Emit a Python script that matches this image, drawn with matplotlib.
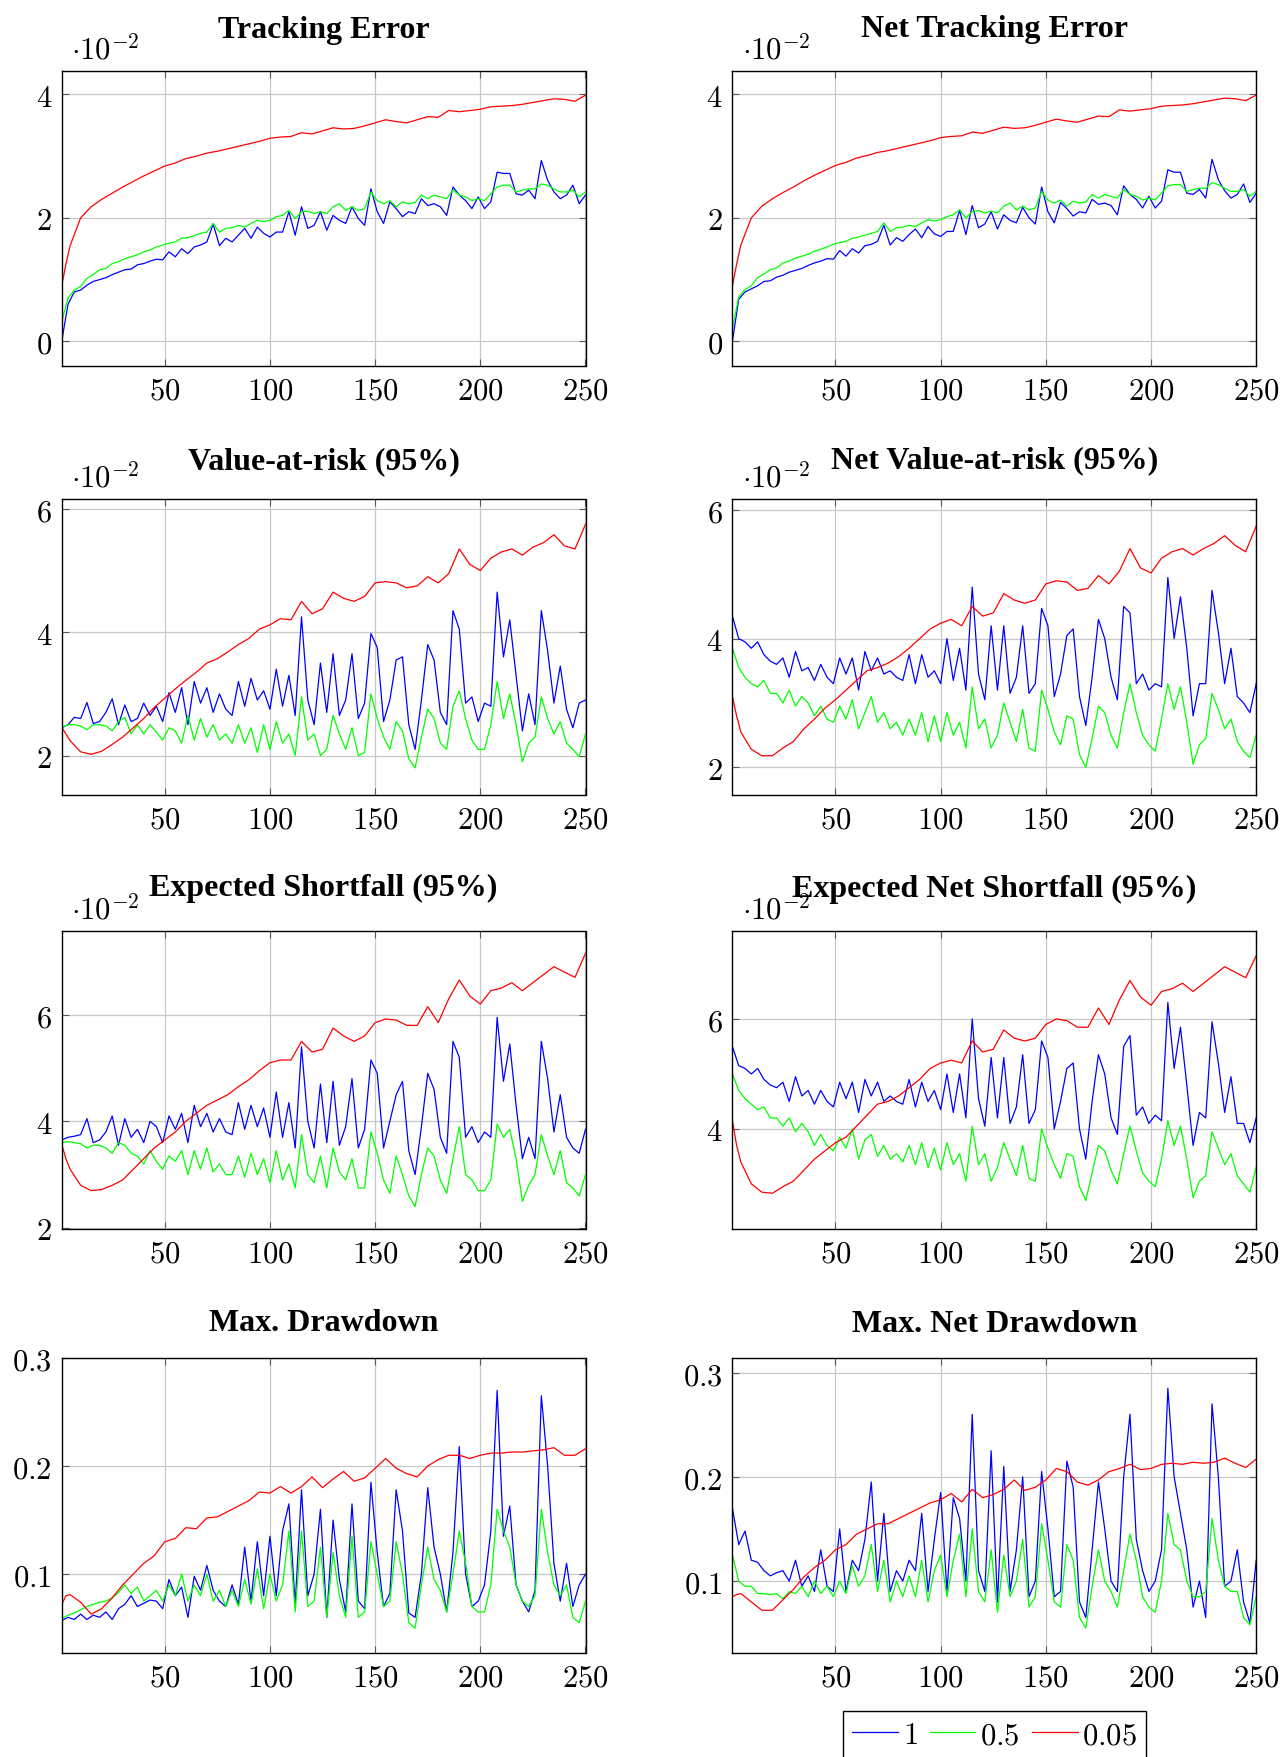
import numpy as np
import matplotlib.pyplot as plt
from matplotlib.ticker import FuncFormatter

plt.rcParams['mathtext.fontset'] = 'cm'

# x positions: noisy series read every 3rd day, smooth (0.05) series every 5th
x_n = np.arange(1, 251, 3)
x_r = np.array([1, 3] + list(range(5, 251, 5)))

legend_labels = ['$1$', '$0.5$', '$0.05$']

# Tracking Error (x 1e-2)
te_blue = [0.0, 0.6, 0.8, 0.83, 0.91, 0.97, 1.0, 1.03, 1.08, 1.12, 1.16, 1.17,
           1.24, 1.26, 1.3, 1.33, 1.32, 1.45, 1.37, 1.5, 1.42, 1.53, 1.56, 1.61,
           1.9, 1.55, 1.67, 1.61, 1.72, 1.83, 1.67, 1.85, 1.75, 1.69, 1.77, 1.77,
           2.1, 1.72, 2.18, 1.83, 1.88, 2.1, 1.8, 2.04, 1.96, 1.91, 2.18, 1.99,
           1.88, 2.47, 2.1, 1.91, 2.26, 2.15, 2.02, 2.1, 2.07, 2.31, 2.2, 2.23,
           2.18, 2.04, 2.5, 2.37, 2.28, 2.15, 2.34, 2.15, 2.26, 2.74, 2.72, 2.72,
           2.39, 2.37, 2.45, 2.31, 2.93, 2.61, 2.42, 2.31, 2.37, 2.53, 2.23, 2.37]
te_green = [0.32, 0.7, 0.83, 0.89, 1.02, 1.08, 1.16, 1.18, 1.26, 1.29, 1.34, 1.37,
            1.4, 1.45, 1.48, 1.53, 1.56, 1.59, 1.61, 1.67, 1.68, 1.71, 1.75, 1.77,
            1.91, 1.77, 1.83, 1.84, 1.88, 1.85, 1.91, 1.96, 1.94, 1.96, 2.02, 2.04,
            2.12, 1.99, 2.1, 2.11, 2.07, 2.1, 2.07, 2.18, 2.23, 2.12, 2.18, 2.12,
            2.15, 2.42, 2.28, 2.23, 2.28, 2.18, 2.26, 2.23, 2.25, 2.37, 2.31, 2.37,
            2.34, 2.31, 2.45, 2.37, 2.34, 2.28, 2.31, 2.28, 2.39, 2.5, 2.53, 2.53,
            2.42, 2.45, 2.47, 2.47, 2.55, 2.53, 2.47, 2.42, 2.42, 2.45, 2.34, 2.42]
te_red = [0.9, 1.25, 1.55, 2.0, 2.18, 2.3, 2.4, 2.5, 2.59, 2.68, 2.76, 2.84,
          2.89, 2.96, 3.0, 3.05, 3.08, 3.12, 3.16, 3.2, 3.24, 3.29,
          3.31, 3.32, 3.38, 3.36, 3.41, 3.46, 3.44, 3.45, 3.49, 3.54,
          3.59, 3.56, 3.54, 3.59, 3.64, 3.63, 3.74, 3.72, 3.74, 3.76,
          3.8, 3.81, 3.82, 3.84, 3.87, 3.9, 3.93, 3.92, 3.89, 3.99]

# Net Tracking Error (x 1e-2)
nte_blue = [0.0, 0.68, 0.8, 0.85, 0.9, 0.97, 0.98, 1.04, 1.07, 1.12, 1.15, 1.18,
            1.23, 1.27, 1.3, 1.34, 1.33, 1.47, 1.38, 1.5, 1.43, 1.55, 1.57, 1.62,
            1.88, 1.56, 1.68, 1.62, 1.73, 1.82, 1.68, 1.86, 1.74, 1.7, 1.78, 1.78,
            2.12, 1.73, 2.2, 1.84, 1.9, 2.1, 1.82, 2.05, 1.96, 1.92, 2.17, 2.0,
            1.9, 2.5, 2.1, 1.92, 2.25, 2.15, 2.03, 2.1, 2.08, 2.3, 2.22, 2.24,
            2.2, 2.05, 2.52, 2.38, 2.3, 2.16, 2.35, 2.16, 2.27, 2.78, 2.74, 2.74,
            2.4, 2.38, 2.46, 2.32, 2.95, 2.62, 2.44, 2.32, 2.38, 2.55, 2.25, 2.4]
nte_green = [0.2, 0.72, 0.84, 0.9, 1.03, 1.09, 1.16, 1.19, 1.27, 1.3, 1.35, 1.38,
             1.41, 1.46, 1.49, 1.53, 1.57, 1.6, 1.62, 1.67, 1.69, 1.72, 1.75, 1.78,
             1.92, 1.78, 1.84, 1.85, 1.88, 1.86, 1.92, 1.97, 1.95, 1.97, 2.02, 2.05,
             2.13, 2.0, 2.1, 2.12, 2.08, 2.11, 2.08, 2.19, 2.24, 2.13, 2.19, 2.13,
             2.16, 2.43, 2.29, 2.24, 2.29, 2.19, 2.27, 2.24, 2.26, 2.38, 2.32, 2.38,
             2.35, 2.32, 2.46, 2.38, 2.35, 2.29, 2.32, 2.29, 2.4, 2.52, 2.54, 2.54,
             2.43, 2.46, 2.48, 2.48, 2.57, 2.54, 2.48, 2.43, 2.43, 2.46, 2.35, 2.43]
nte_red = [0.9, 1.25, 1.56, 2.0, 2.19, 2.31, 2.41, 2.5, 2.6, 2.69, 2.77, 2.85,
           2.9, 2.97, 3.01, 3.06, 3.09, 3.13, 3.17, 3.21, 3.25, 3.3,
           3.32, 3.33, 3.39, 3.37, 3.42, 3.47, 3.45, 3.46, 3.5, 3.55,
           3.6, 3.57, 3.55, 3.6, 3.65, 3.64, 3.75, 3.73, 3.75, 3.77,
           3.81, 3.82, 3.83, 3.85, 3.88, 3.91, 3.94, 3.93, 3.9, 3.99]

# Value-at-risk 95% (x 1e-2)
var_blue = [2.45, 2.5, 2.62, 2.6, 2.86, 2.52, 2.55, 2.7, 2.92, 2.5, 2.82, 2.55,
            2.6, 2.85, 2.65, 2.8, 2.55, 3.02, 2.7, 3.1, 2.5, 3.2, 2.85, 3.1,
            2.7, 3.0, 2.75, 2.65, 3.2, 2.8, 3.25, 2.9, 3.05, 2.75, 3.4, 2.8,
            3.3, 2.65, 4.25, 2.9, 2.5, 3.5, 2.7, 3.65, 2.65, 2.9, 3.65, 2.6,
            2.85, 3.98, 3.75, 2.55, 2.9, 3.55, 3.6, 2.5, 2.1, 2.9, 3.8, 3.55,
            2.7, 2.5, 4.35, 4.05, 2.85, 2.95, 2.55, 2.85, 2.8, 4.65, 3.6, 4.2,
            3.3, 2.4, 3.0, 2.5, 4.35, 3.7, 2.85, 3.45, 2.75, 2.45, 2.85, 2.9]
var_green = [2.45, 2.5, 2.5, 2.48, 2.42, 2.5, 2.5, 2.48, 2.4, 2.55, 2.62, 2.35,
             2.5, 2.35, 2.5, 2.38, 2.25, 2.45, 2.4, 2.2, 2.65, 2.25, 2.6, 2.3,
             2.5, 2.25, 2.35, 2.2, 2.5, 2.2, 2.45, 2.05, 2.5, 2.1, 2.55, 2.2,
             2.35, 2.0, 2.95, 2.25, 2.35, 2.0, 2.1, 2.65, 2.35, 2.1, 2.45, 2.0,
             2.05, 3.0, 2.6, 2.3, 2.1, 2.55, 2.4, 1.95, 1.8, 2.3, 2.75, 2.6,
             2.2, 2.1, 2.8, 3.05, 2.6, 2.25, 2.1, 2.1, 2.5, 3.2, 2.6, 3.0,
             2.5, 1.9, 2.2, 2.3, 2.95, 2.6, 2.35, 2.55, 2.2, 2.1, 1.98, 2.35]
var_red = [2.46, 2.35, 2.24, 2.06, 2.02, 2.07, 2.18, 2.3, 2.45, 2.6, 2.78, 2.93,
           3.08, 3.22, 3.35, 3.5, 3.57, 3.68, 3.8, 3.9, 4.05, 4.12,
           4.22, 4.2, 4.5, 4.3, 4.38, 4.65, 4.55, 4.5, 4.58, 4.8,
           4.82, 4.8, 4.72, 4.75, 4.9, 4.8, 4.95, 5.35, 5.1, 5.0,
           5.2, 5.3, 5.35, 5.25, 5.38, 5.45, 5.58, 5.4, 5.35, 5.75]

# Net Value-at-risk 95% (x 1e-2)
nvar_blue = [4.35, 4.0, 3.95, 3.85, 3.95, 3.75, 3.65, 3.6, 3.7, 3.4, 3.8, 3.5,
             3.55, 3.35, 3.6, 3.4, 3.3, 3.7, 3.45, 3.7, 3.2, 3.8, 3.5, 3.7,
             3.45, 3.5, 3.4, 3.35, 3.75, 3.3, 3.75, 3.4, 3.5, 3.3, 4.0, 3.35,
             3.85, 3.2, 4.8, 3.45, 3.05, 4.2, 3.2, 4.2, 3.15, 3.4, 4.2, 3.15,
             3.3, 4.47, 4.2, 3.1, 3.45, 4.05, 4.15, 3.1, 2.65, 3.4, 4.3, 4.0,
             3.4, 3.05, 4.5, 4.4, 3.3, 3.45, 3.2, 3.3, 3.25, 4.95, 4.0, 4.65,
             3.85, 2.8, 3.3, 3.3, 4.75, 4.1, 3.3, 3.85, 3.1, 3.0, 2.85, 3.3]
nvar_green = [3.85, 3.55, 3.4, 3.3, 3.25, 3.35, 3.15, 3.15, 3.0, 3.2, 2.95, 3.1,
              3.0, 2.8, 2.95, 2.75, 2.7, 2.95, 2.75, 3.05, 2.6, 2.85, 3.1, 2.7,
              2.85, 2.6, 2.7, 2.5, 2.75, 2.5, 2.85, 2.4, 2.8, 2.4, 2.85, 2.5,
              2.7, 2.3, 3.25, 2.6, 2.75, 2.3, 2.5, 3.0, 2.7, 2.4, 2.9, 2.3,
              2.25, 3.2, 2.9, 2.55, 2.35, 2.8, 2.75, 2.2, 2.0, 2.45, 2.95, 2.85,
              2.5, 2.3, 2.85, 3.3, 2.85, 2.5, 2.35, 2.25, 2.75, 3.3, 2.9, 3.25,
              2.7, 2.05, 2.35, 2.45, 3.15, 2.9, 2.6, 2.75, 2.4, 2.25, 2.15, 2.5]
nvar_red = [3.1, 2.8, 2.55, 2.28, 2.18, 2.18, 2.3, 2.4, 2.6, 2.75, 2.92, 3.05,
            3.2, 3.35, 3.5, 3.55, 3.62, 3.72, 3.85, 4.0, 4.15, 4.24,
            4.3, 4.2, 4.5, 4.35, 4.4, 4.7, 4.6, 4.55, 4.6, 4.85,
            4.9, 4.88, 4.75, 4.78, 4.98, 4.85, 5.05, 5.4, 5.1, 5.02,
            5.25, 5.35, 5.4, 5.3, 5.4, 5.48, 5.6, 5.45, 5.35, 5.75]

# Expected Shortfall 95% (x 1e-2)
es_blue = [3.65, 3.7, 3.72, 3.75, 4.05, 3.6, 3.65, 3.8, 4.1, 3.55, 4.05, 3.7,
           3.85, 3.6, 4.0, 3.9, 3.6, 4.1, 3.85, 4.15, 3.6, 4.3, 3.9, 4.15,
           3.8, 4.05, 3.8, 3.75, 4.35, 3.85, 4.3, 3.9, 4.25, 3.7, 4.55, 3.7,
           4.35, 3.5, 5.4, 4.0, 3.5, 4.7, 3.6, 4.75, 3.55, 3.9, 4.8, 3.5,
           3.85, 5.15, 4.9, 3.5, 4.0, 4.5, 4.75, 3.45, 3.0, 3.9, 4.9, 4.6,
           3.7, 3.4, 5.5, 5.2, 3.7, 3.9, 3.6, 3.8, 3.7, 5.95, 4.75, 5.45,
           4.3, 3.3, 3.7, 3.3, 5.5, 4.8, 3.8, 4.5, 3.7, 3.5, 3.4, 3.85]
es_green = [3.6, 3.62, 3.6, 3.58, 3.5, 3.55, 3.55, 3.5, 3.4, 3.6, 3.55, 3.4,
            3.35, 3.2, 3.45, 3.25, 3.1, 3.35, 3.25, 3.45, 3.0, 3.45, 3.1, 3.5,
            3.05, 3.2, 3.0, 3.0, 3.35, 2.95, 3.4, 3.0, 3.3, 2.85, 3.45, 2.9,
            3.2, 2.75, 3.75, 3.0, 2.85, 3.35, 2.75, 3.5, 3.05, 2.9, 3.3, 2.75,
            2.75, 3.8, 3.4, 2.9, 2.65, 3.35, 3.0, 2.6, 2.4, 3.0, 3.5, 3.35,
            2.9, 2.65, 3.3, 3.9, 3.0, 2.9, 2.7, 2.7, 2.9, 3.95, 3.7, 3.85,
            3.3, 2.5, 2.8, 3.0, 3.75, 3.35, 3.0, 3.45, 2.85, 2.75, 2.6, 3.0]
es_red = [3.57, 3.3, 3.1, 2.8, 2.7, 2.72, 2.8, 2.9, 3.1, 3.3, 3.5, 3.65,
          3.8, 4.0, 4.15, 4.3, 4.4, 4.5, 4.65, 4.78, 4.95, 5.1,
          5.15, 5.15, 5.5, 5.3, 5.35, 5.75, 5.6, 5.5, 5.6, 5.85,
          5.92, 5.9, 5.8, 5.8, 6.15, 5.85, 6.3, 6.65, 6.35, 6.2,
          6.45, 6.5, 6.6, 6.45, 6.6, 6.75, 6.9, 6.8, 6.7, 7.15]

# Expected Net Shortfall 95% (x 1e-2)
nes_blue = [5.5, 5.15, 5.1, 5.0, 5.1, 4.9, 4.8, 4.75, 4.85, 4.5, 4.95, 4.6,
            4.7, 4.45, 4.7, 4.5, 4.4, 4.85, 4.55, 4.85, 4.3, 4.9, 4.6, 4.85,
            4.5, 4.6, 4.5, 4.45, 4.9, 4.4, 4.85, 4.5, 4.7, 4.35, 5.0, 4.3,
            5.0, 4.2, 6.0, 4.55, 4.05, 5.3, 4.2, 5.3, 4.1, 4.4, 5.35, 4.1,
            4.35, 5.6, 5.3, 4.0, 4.5, 5.1, 5.2, 4.0, 3.45, 4.5, 5.35, 5.0,
            4.2, 3.9, 5.5, 5.7, 4.25, 4.4, 4.1, 4.25, 4.15, 6.3, 5.1, 5.85,
            4.8, 3.7, 4.3, 4.2, 5.95, 5.2, 4.3, 4.95, 4.1, 4.1, 3.75, 4.2]
nes_green = [5.0, 4.7, 4.55, 4.45, 4.35, 4.4, 4.2, 4.2, 4.05, 4.2, 3.95, 4.1,
             3.95, 3.7, 3.9, 3.7, 3.6, 3.85, 3.65, 4.0, 3.45, 3.8, 3.9, 3.5,
             3.7, 3.45, 3.55, 3.4, 3.7, 3.35, 3.75, 3.3, 3.65, 3.25, 3.75, 3.35,
             3.55, 3.05, 4.05, 3.35, 3.55, 3.05, 3.3, 3.75, 3.45, 3.15, 3.7, 3.1,
             3.05, 4.0, 3.65, 3.35, 3.1, 3.55, 3.5, 2.95, 2.7, 3.2, 3.7, 3.6,
             3.25, 3.0, 3.55, 4.05, 3.6, 3.2, 3.05, 2.95, 3.45, 4.15, 3.7, 4.05,
             3.45, 2.75, 3.05, 3.15, 3.95, 3.65, 3.35, 3.55, 3.15, 3.0, 2.85, 3.3]
nes_red = [4.15, 3.7, 3.4, 3.0, 2.85, 2.83, 2.95, 3.05, 3.25, 3.45, 3.6, 3.75,
           3.85, 4.05, 4.25, 4.45, 4.5, 4.6, 4.75, 4.9, 5.1, 5.2,
           5.25, 5.2, 5.6, 5.4, 5.45, 5.8, 5.65, 5.6, 5.65, 5.9,
           6.0, 5.97, 5.85, 5.85, 6.2, 5.9, 6.35, 6.7, 6.4, 6.25,
           6.5, 6.55, 6.65, 6.5, 6.65, 6.8, 6.95, 6.85, 6.75, 7.15]

# Max. Drawdown
mdd_blue = [0.057, 0.06, 0.058, 0.063, 0.058, 0.062, 0.06, 0.065, 0.058, 0.068, 0.072, 0.08,
            0.07, 0.073, 0.076, 0.075, 0.068, 0.095, 0.08, 0.088, 0.06, 0.098, 0.085, 0.108,
            0.085, 0.075, 0.07, 0.09, 0.072, 0.125, 0.075, 0.13, 0.08, 0.135, 0.08, 0.14,
            0.165, 0.072, 0.178, 0.08, 0.1, 0.16, 0.06, 0.15, 0.095, 0.065, 0.165, 0.075,
            0.068, 0.185, 0.12, 0.07, 0.082, 0.178, 0.14, 0.064, 0.06, 0.1, 0.18, 0.125,
            0.1, 0.065, 0.12, 0.218, 0.1, 0.07, 0.075, 0.09, 0.14, 0.27, 0.135, 0.163,
            0.09, 0.075, 0.065, 0.085, 0.265, 0.2, 0.11, 0.075, 0.11, 0.07, 0.09, 0.1]
mdd_green = [0.059, 0.062, 0.064, 0.067, 0.07, 0.072, 0.074, 0.075, 0.078, 0.083, 0.09, 0.082,
             0.088, 0.075, 0.08, 0.085, 0.075, 0.09, 0.08, 0.1, 0.075, 0.09, 0.08, 0.1,
             0.075, 0.085, 0.07, 0.085, 0.07, 0.095, 0.072, 0.105, 0.068, 0.1, 0.075, 0.09,
             0.14, 0.065, 0.14, 0.07, 0.075, 0.125, 0.06, 0.12, 0.08, 0.06, 0.135, 0.06,
             0.065, 0.13, 0.1, 0.07, 0.075, 0.13, 0.1, 0.055, 0.05, 0.09, 0.125, 0.095,
             0.085, 0.065, 0.1, 0.14, 0.11, 0.07, 0.065, 0.065, 0.09, 0.16, 0.14, 0.125,
             0.09, 0.075, 0.07, 0.08, 0.16, 0.12, 0.09, 0.08, 0.09, 0.06, 0.055, 0.075]
mdd_red = [0.072, 0.08, 0.081, 0.074, 0.063, 0.068, 0.078, 0.09, 0.1, 0.11, 0.117, 0.13,
           0.133, 0.143, 0.142, 0.152, 0.153, 0.158, 0.163, 0.168, 0.176, 0.175,
           0.181, 0.175, 0.181, 0.19, 0.18, 0.188, 0.195, 0.186, 0.189, 0.198,
           0.207, 0.198, 0.193, 0.19, 0.2, 0.206, 0.21, 0.21, 0.207, 0.21,
           0.212, 0.212, 0.213, 0.213, 0.214, 0.215, 0.217, 0.21, 0.21, 0.216]

# Max. Net Drawdown
nmdd_blue = [0.17, 0.135, 0.148, 0.12, 0.118, 0.11, 0.105, 0.108, 0.11, 0.1, 0.12, 0.095,
             0.105, 0.09, 0.13, 0.095, 0.09, 0.15, 0.09, 0.12, 0.11, 0.14, 0.195, 0.1,
             0.165, 0.09, 0.11, 0.1, 0.12, 0.11, 0.165, 0.09, 0.14, 0.185, 0.09, 0.18,
             0.16, 0.1, 0.26, 0.11, 0.09, 0.225, 0.08, 0.21, 0.09, 0.13, 0.2, 0.085,
             0.1, 0.205, 0.15, 0.085, 0.09, 0.215, 0.19, 0.08, 0.065, 0.13, 0.195, 0.15,
             0.1, 0.09, 0.2, 0.26, 0.14, 0.11, 0.09, 0.1, 0.13, 0.285, 0.2, 0.165,
             0.13, 0.075, 0.1, 0.065, 0.27, 0.2, 0.095, 0.1, 0.13, 0.08, 0.06, 0.12]
nmdd_green = [0.125, 0.1, 0.095, 0.095, 0.088, 0.088, 0.087, 0.088, 0.083, 0.09, 0.088, 0.095,
              0.085, 0.1, 0.088, 0.095, 0.085, 0.1, 0.088, 0.115, 0.095, 0.105, 0.135, 0.09,
              0.12, 0.08, 0.1, 0.085, 0.105, 0.085, 0.12, 0.08, 0.11, 0.125, 0.085, 0.12,
              0.145, 0.085, 0.15, 0.09, 0.08, 0.13, 0.07, 0.125, 0.085, 0.1, 0.14, 0.075,
              0.085, 0.155, 0.12, 0.08, 0.075, 0.135, 0.12, 0.065, 0.055, 0.095, 0.13, 0.1,
              0.09, 0.075, 0.11, 0.145, 0.12, 0.085, 0.075, 0.07, 0.1, 0.165, 0.135, 0.13,
              0.1, 0.085, 0.085, 0.09, 0.16, 0.12, 0.095, 0.09, 0.09, 0.065, 0.058, 0.085]
nmdd_red = [0.085, 0.087, 0.088, 0.08, 0.072, 0.072, 0.082, 0.092, 0.104, 0.113, 0.12, 0.13,
            0.135, 0.145, 0.15, 0.155, 0.155, 0.16, 0.165, 0.17, 0.175, 0.178,
            0.184, 0.176, 0.188, 0.18, 0.183, 0.188, 0.197, 0.187, 0.19, 0.197,
            0.208, 0.205, 0.195, 0.192, 0.197, 0.205, 0.208, 0.212, 0.207, 0.208,
            0.212, 0.213, 0.212, 0.214, 0.213, 0.214, 0.218, 0.213, 0.209, 0.217]

panels = [
    ("Tracking Error", te_blue, te_green, te_red, (-0.4, 4.38), [0, 2, 4], True, 24.5),
    ("Net Tracking Error", nte_blue, nte_green, nte_red, (-0.4, 4.38), [0, 2, 4], True, 25),
    ("Value-at-risk (95%)", var_blue, var_green, var_red, (1.36, 6.16), [2, 4, 6], True, 22),
    ("Net Value-at-risk (95%)", nvar_blue, nvar_green, nvar_red, (1.57, 6.17), [2, 4, 6], True, 23),
    ("Expected Shortfall (95%)", es_blue, es_green, es_red, (1.98, 7.57), [2, 4, 6], True, 26),
    ("Expected Net Shortfall (95%)", nes_blue, nes_green, nes_red, (2.18, 7.6), [4, 6], True, 25.5),
    ("Max. Drawdown", mdd_blue, mdd_green, mdd_red, (0.027, 0.30), [0.1, 0.2, 0.3], False, 20),
    ("Max. Net Drawdown", nmdd_blue, nmdd_green, nmdd_red, (0.031, 0.314), [0.1, 0.2, 0.3], False, 19.5),
]

W, H = 1282, 1758
fig = plt.figure(figsize=(W / 100, H / 100), dpi=100)

lefts = [61.7, 732.4]
width = 523.8
rows = [(72, 367), (500, 796), (932, 1230), (1359, 1654)]

fmt = FuncFormatter(lambda v, p: '$%g$' % v)
lines = []
for k, (title, yb, yg, yr, ylim, yt, scaled, pad) in enumerate(panels):
    r, c = divmod(k, 2)
    top, bot = rows[r]
    ax = fig.add_axes([lefts[c] / W, 1 - bot / H, width / W, (bot - top) / H])
    l1, = ax.plot(x_n, yb, color=(0, 0, 1), lw=0.9)
    l2, = ax.plot(x_n, yg, color=(0, 1, 0), lw=0.9)
    l3, = ax.plot(x_r, yr, color=(1, 0, 0), lw=0.9)
    lines = [l1, l2, l3]
    ax.set_xlim(1, 250)
    ax.set_ylim(*ylim)
    ax.set_xticks([50, 100, 150, 200, 250])
    ax.set_yticks(yt)
    ax.xaxis.set_major_formatter(fmt)
    ax.yaxis.set_major_formatter(fmt)
    ax.grid(True, color='#c8c8c8', lw=0.9)
    ax.set_axisbelow(True)
    ax.tick_params(direction='in', length=5, width=0.8, color='0.35',
                   top=True, right=True, labelsize=22, pad=7)
    for s in ax.spines.values():
        s.set_linewidth(1.0)
    ax.set_title(title, fontsize=23, fontweight='bold', family='Liberation Serif', pad=pad)
    if scaled:
        ax.annotate(r'$\cdot 10^{-2}$', xy=(0, 1), xycoords='axes fraction',
                    xytext=(7, 5), textcoords='offset points', fontsize=22,
                    ha='left', va='bottom')

fig.legend(lines, legend_labels, loc='upper center', bbox_to_anchor=(994.5 / W, 1 - 1712 / H),
           ncol=3, fontsize=22, frameon=True, fancybox=False, edgecolor='black',
           framealpha=1, borderaxespad=0, handlelength=1.5, handletextpad=0.15,
           columnspacing=0.4, borderpad=0.3)

fig.savefig('out.png', dpi=100)
